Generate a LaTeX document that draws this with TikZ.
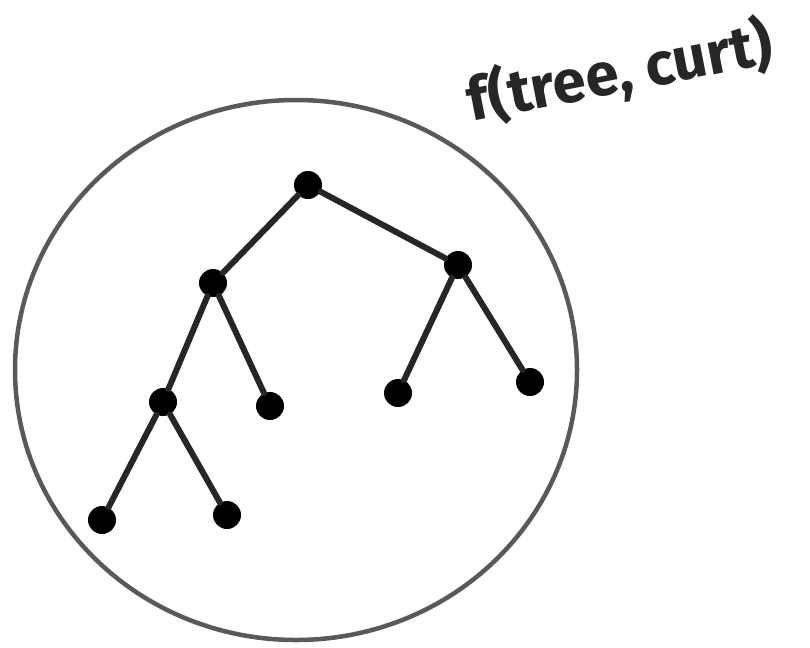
\documentclass[tikz,border=0pt]{standalone}
\usepackage{fontspec}
\setmainfont{Fira Sans}
\usepackage{xcolor}
\tikzset{
  trring/.style={line width=4.5pt, draw=black!65, line cap=round},
  tredge/.style={line width=6pt, draw=black!85, line cap=round},
  trdot/.style={circle, fill=black, inner sep=0pt, minimum size=28pt},
  trlabel/.style={font=\fontsize{60}{60}\selectfont\bfseries, text=black!85, rotate=11},
}
\begin{document}
\begin{tikzpicture}[x=1pt, y=-1pt]
\useasboundingbox (0,0) rectangle (810,647);
\draw[trring] (296,370) ellipse (281 and 270);
\node[trdot] (root) at (308,185) {};
\node[trdot] (l) at (213,283) {};
\node[trdot] (r) at (458,265) {};
\node[trdot] (ll) at (163,402) {};
\node[trdot] (lr) at (270,406) {};
\node[trdot] (rl) at (398,393) {};
\node[trdot] (rr) at (530,382) {};
\node[trdot] (lll) at (102,520) {};
\node[trdot] (llr) at (227,515) {};
\draw[tredge] (root) -- (l);
\draw[tredge] (root) -- (r);
\draw[tredge] (l) -- (ll);
\draw[tredge] (l) -- (lr);
\draw[tredge] (ll) -- (lll);
\draw[tredge] (ll) -- (llr);
\draw[tredge] (r) -- (rl);
\draw[tredge] (r) -- (rr);
\node[trlabel] (fn) at (620,72) {f(tree, curt)};
\end{tikzpicture}
\end{document}
